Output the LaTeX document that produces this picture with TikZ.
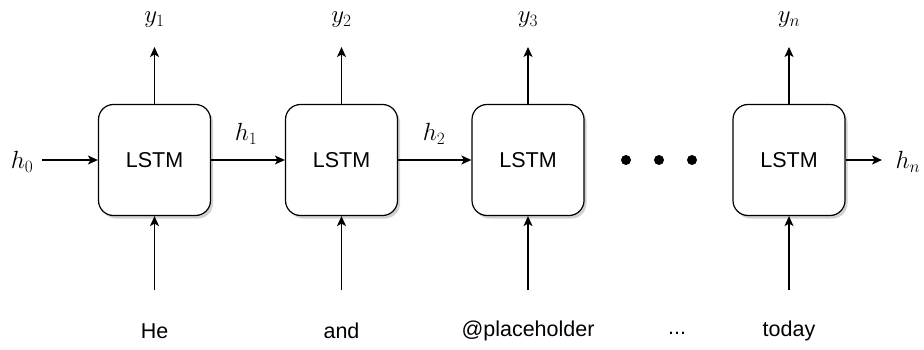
\documentclass[tikz,border=0pt]{standalone}
\usepackage{fontspec}
\setmainfont{Liberation Sans}
\usetikzlibrary{arrows.meta,shadows}
\begin{document}
\begin{tikzpicture}[x=1pt,y=-1pt,
  cell/.style={draw, line width=1.2pt, rounded corners=15pt, fill=white,
    minimum width=112pt, minimum height=111pt, inner sep=0pt,
    font=\fontsize{21.5}{25}\selectfont,
    drop shadow={shadow xshift=2.5pt, shadow yshift=-3pt, opacity=0.3, fill=black!60}},
  word/.style={font=\fontsize{21.5}{25}\selectfont, inner sep=0pt},
  mlab/.style={font=\fontsize{24}{28}\selectfont, inner sep=0pt},
  conn/.style={line width=1.3pt, -{Stealth[length=10pt,width=9pt,inset=2.5pt]}},
  dot/.style={circle, fill=black, minimum size=10pt, inner sep=0pt}]
\useasboundingbox (0,0) rectangle (924,350);
% cells
\node[cell] (c1) at (154.5,160) {LSTM};
\node[cell] (c2) at (341.5,160) {LSTM};
\node[cell] (c3) at (528,160) {LSTM};
\node[cell] (c4) at (789,160) {LSTM};
% outputs
\node[mlab] (y1) at (154.5,20) {$y_1$};
\node[mlab] (y2) at (341.5,20) {$y_2$};
\node[mlab] (y3) at (528,20) {$y_3$};
\node[mlab] (yn) at (789,20) {$y_n$};
\coordinate (t1) at (154.5,47);
\coordinate (t2) at (341.5,47);
\coordinate (t3) at (528,47);
\coordinate (t4) at (789,47);
\draw[conn] (c1.north) -- (t1);
\draw[conn] (c2.north) -- (t2);
\draw[conn] (c3.north) -- (t3);
\draw[conn] (c4.north) -- (t4);
% inputs
\node[word] (w1) at (154.5,331) {He};
\node[word] (w2) at (341.5,331) {and};
\node[word] (w3) at (528,331) {@placeholder};
\node[word] (w4) at (789,331) {today};
\node[word] (wd) at (677,333) {...};
\coordinate (b1) at (154.5,290);
\coordinate (b2) at (341.5,290);
\coordinate (b3) at (528,290);
\coordinate (b4) at (789,290);
\draw[conn] (b1) -- (c1.south);
\draw[conn] (b2) -- (c2.south);
\draw[conn] (b3) -- (c3.south);
\draw[conn] (b4) -- (c4.south);
% hidden states
\node[mlab] (h0) at (22,162) {$h_0$};
\coordinate (h0s) at (42,160);
\draw[conn] (h0s) -- (c1.west);
\draw[conn] (c1.east) -- (c2.west);
\node[mlab] (h1) at (246,134) {$h_1$};
\draw[conn] (c2.east) -- (c3.west);
\node[mlab] (h2) at (434,134) {$h_2$};
\coordinate (hne) at (882,160);
\draw[conn] (c4.east) -- (hne);
\node[mlab] (hn) at (908,162) {$h_n$};
% ellipsis dots
\node[dot] (d1) at (626,160) {};
\node[dot] (d2) at (659,160) {};
\node[dot] (d3) at (692,160) {};
\end{tikzpicture}
\end{document}
